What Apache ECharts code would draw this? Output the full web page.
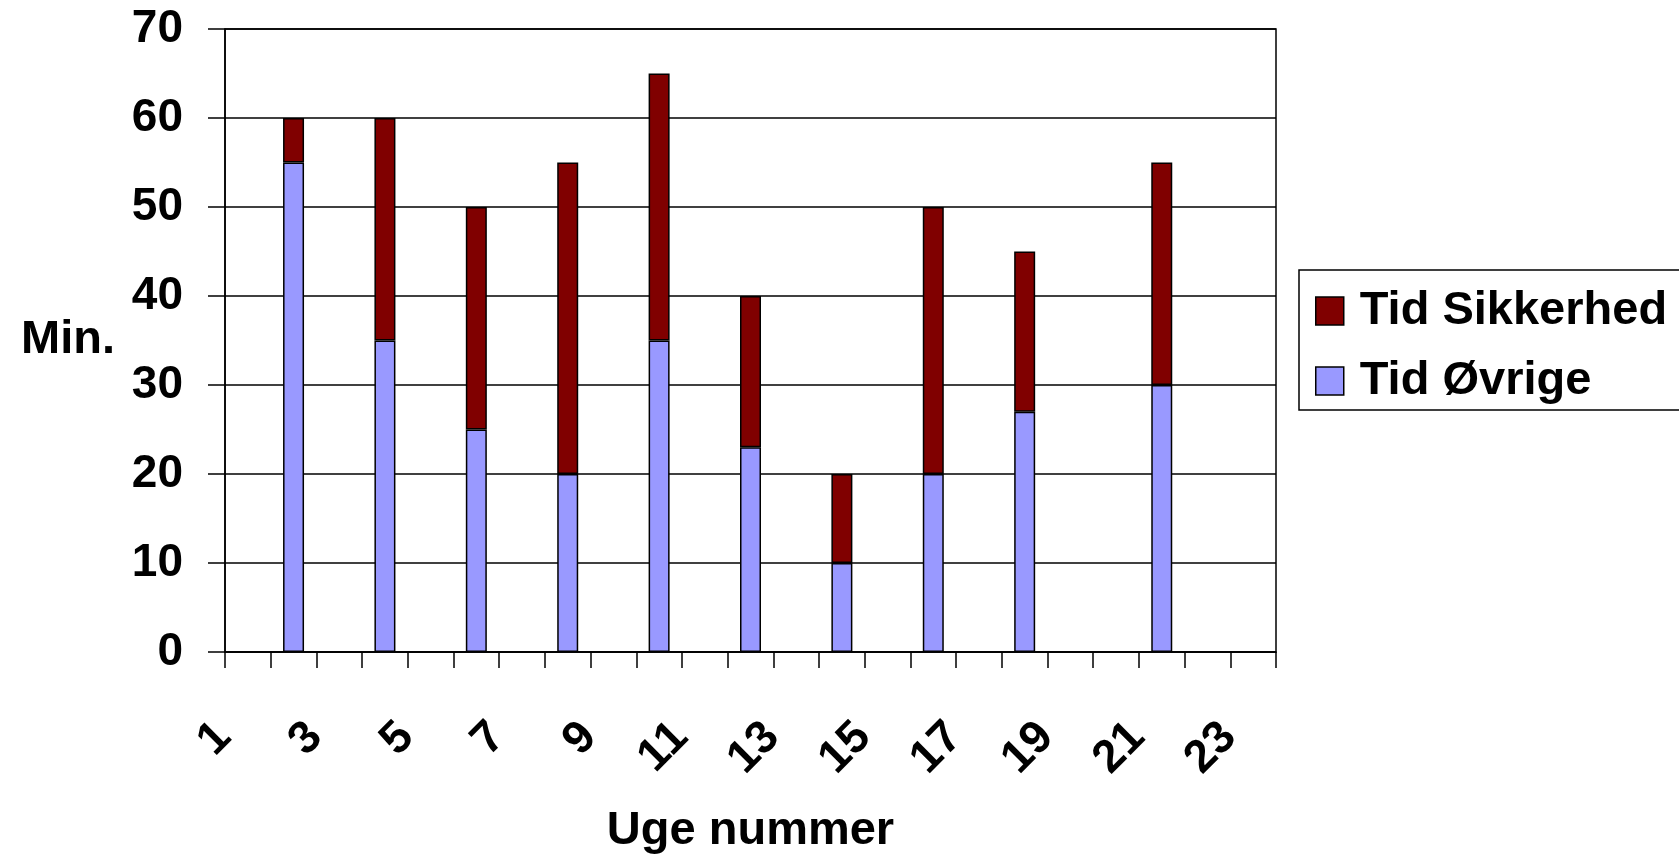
<!DOCTYPE html>
<html>
<head>
<meta charset="utf-8">
<script src="https://cdn.jsdelivr.net/npm/echarts@6/dist/echarts.min.js"></script>
<style>
html,body{margin:0;padding:0;background:#fff;}
#c{width:1679px;height:858px;}
</style>
</head>
<body>
<div id="c"></div>
<script>
const weeks = ['1','2','3','4','5','6','7','8','9','10','11','12','13','14','15','16','17','18','19','20','21','22','23'];
const tidOvrige =    [null,55,null,35,null,25,null,20,null,35,null,23,null,10,null,20,null,27,null,null,30,null,null];
const tidSikkerhed = [null, 5,null,25,null,25,null,35,null,30,null,17,null,10,null,30,null,18,null,null,25,null,null];
const yTicks = [0,10,20,30,40,50,60,70];

const FONT = '"Liberation Sans", Arial, sans-serif';
const chart = echarts.init(document.getElementById('c'), null, {renderer:'canvas'});
chart.setOption({
  backgroundColor:'#fff',
  animation:false,
  textStyle:{fontFamily:FONT},
  grid:{left:225, right:403, top:29, bottom:206, show:true, borderColor:'#000', borderWidth:1.5, containLabel:false, outerBoundsMode:'none'},
  legend:{
    orient:'vertical', left:1299, top:270,
    data:['Tid Sikkerhed','Tid Øvrige'],
    icon:'rect', itemWidth:28, itemHeight:28, itemGap:20,
    padding:[16,16,4,16],
    borderColor:'#000', borderWidth:1.5, backgroundColor:'#fff',
    textStyle:{fontFamily:FONT, fontSize:47, fontWeight:'bold', color:'#000', lineHeight:50, padding:[0,0,0,11]},
    itemStyle:{borderColor:'#000', borderWidth:1.5}
  },
  xAxis:{
    type:'category', data:weeks, boundaryGap:true,
    name:'Uge nummer', nameLocation:'middle', nameGap:156,
    nameTextStyle:{fontFamily:FONT, fontSize:47, fontWeight:'bold', color:'#000'},
    axisLine:{lineStyle:{color:'#000', width:1.5}},
    axisTick:{show:true, interval:0, length:16, lineStyle:{color:'#000', width:1.5}},
    axisLabel:{interval:1, rotate:45, margin:54, fontFamily:FONT, fontSize:46, fontWeight:'bold', color:'#000', padding:[0,34,68,0]},
    splitLine:{show:false}
  },
  yAxis:{
    type:'value', min:yTicks[0], max:yTicks[yTicks.length-1], interval:10,
    name:'Min.', nameLocation:'middle', nameRotate:0, nameGap:110,
    nameTextStyle:{fontFamily:FONT, fontSize:47, fontWeight:'bold', color:'#000'},
    axisLine:{show:true, lineStyle:{color:'#000', width:1.5}},
    axisTick:{show:true, length:17, lineStyle:{color:'#000', width:1.5}},
    axisLabel:{margin:42, fontFamily:FONT, fontSize:46, fontWeight:'bold', color:'#000'},
    splitLine:{show:true, lineStyle:{color:'#000', width:1.5}}
  },
  series:[
    {name:'Tid Øvrige', type:'bar', stack:'t', data:tidOvrige, barWidth:21,
     itemStyle:{color:'#9999FF', borderColor:'#000', borderWidth:1.5}},
    {name:'Tid Sikkerhed', type:'bar', stack:'t', data:tidSikkerhed, barWidth:21,
     itemStyle:{color:'#800000', borderColor:'#000', borderWidth:1.5}}
  ]
});
</script>
</body>
</html>
